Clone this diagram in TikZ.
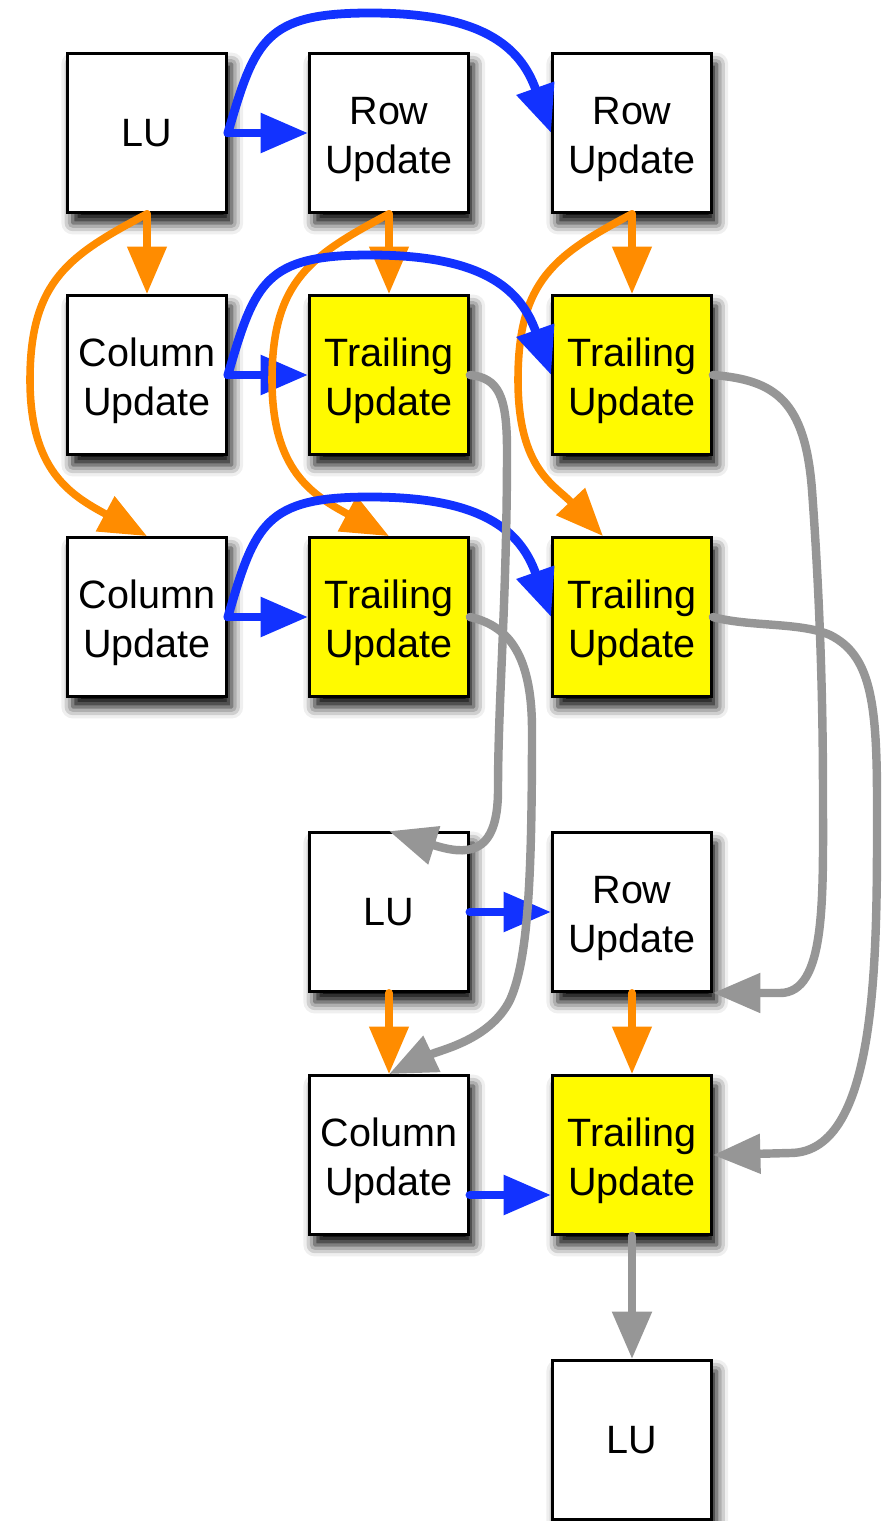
\documentclass[tikz,border=0pt]{standalone}
\usepackage{fontspec}
\setmainfont{Liberation Sans}
\usetikzlibrary{arrows.meta,shadows.blur}
\definecolor{luBlue}{RGB}{18,50,255}
\definecolor{luOrange}{RGB}{255,140,0}
\definecolor{luGray}{RGB}{150,150,150}
\definecolor{luYellow}{RGB}{255,250,0}

\begin{document}
\begin{tikzpicture}[x=0.02cm, y=-0.02cm,
        >={Triangle[length=0.95cm, width=0.76cm]},
        box/.style={rectangle, draw, line width=1.6pt, fill=white, minimum size=3.18cm, inner sep=0pt, align=center,
            font=\fontsize{22.5}{28}\selectfont,
            blur shadow={shadow xshift=3pt, shadow yshift=-6pt, shadow blur radius=6.5pt, shadow opacity=100}},
        twoline/.style={box, text height=1.8cm},
        trail/.style={twoline, fill=luYellow},
        blueline/.style={->, draw=luBlue, line width=5pt, line cap=round},
        orangeline/.style={->, draw=luOrange, line width=4.3pt, line cap=round},
        grayline/.style={->, draw=luGray, line width=4.8pt, line cap=round}
    ]
    \useasboundingbox (0,0) rectangle (892,1521);

    % Blocks
    \node[box] (lu1) at (147,133) {LU};
    \node[twoline] (row12) at (389,133) {Row\\Update};
    \node[twoline] (row13) at (632,133) {Row\\Update};
    \node[twoline] (col21) at (147,375) {Column\\Update};
    \node[trail] (trail22) at (389,375) {Trailing\\Update};
    \node[trail] (trail23) at (632,375) {Trailing\\Update};
    \node[twoline] (col31) at (147,617) {Column\\Update};
    \node[trail] (trail32) at (389,617) {Trailing\\Update};
    \node[trail] (trail33) at (632,617) {Trailing\\Update};
    \node[box] (lu4) at (389,912) {LU};
    \node[twoline] (row43) at (632,912) {Row\\Update};
    \node[twoline] (col52) at (389,1155) {Column\\Update};
    \node[trail] (trail53) at (632,1155) {Trailing\\Update};
    \node[box] (lu6) at (632,1440) {LU};

    % Row direction, neighbours
    \draw[blueline] (lu1.east) -- (row12.west);
    \draw[blueline] (col21.east) -- (trail22.west);
    \draw[blueline] (col31.east) -- (trail32.west);
    \draw[blueline] (lu4.east) -- (row43.west);
    \draw[blueline] ([yshift=-0.8cm]col52.east) -- ([yshift=-0.8cm]trail53.west);

    % Column direction
    \draw[orangeline] (lu1.south) -- (col21.north);
    \draw[orangeline] (row12.south) -- (trail22.north);
    \draw[orangeline] (row13.south) -- (trail23.north);
    \draw[orangeline] (lu4.south) -- (col52.north);
    \draw[orangeline] (row43.south) -- (trail53.north);
    \draw[orangeline] (lu1.south) .. controls (70,255) and (30,280) .. (30,380)
        .. controls (30,470) and (70,495) .. (col31.north);
    \draw[orangeline] (row12.south) .. controls (312,255) and (272,280) .. (272,380)
        .. controls (272,470) and (312,495) .. (trail32.north);
    \draw[orangeline] (row13.south) .. controls (555,255) and (518,280) .. (518,380)
        .. controls (518,470) and (555,485) .. ([xshift=-0.58cm]trail33.north);

    % Row direction, far blocks
    \draw[blueline] (lu1.east) .. controls (255,40) and (265,13) .. (370,13)
        .. controls (480,13) and (520,45) .. (row13.west);
    \draw[blueline] (col21.east) .. controls (255,282) and (265,255) .. (370,255)
        .. controls (480,255) and (520,287) .. (trail23.west);
    \draw[blueline] (col31.east) .. controls (255,524) and (265,497) .. (370,497)
        .. controls (480,497) and (520,529) .. (trail33.west);

    % Next step
    \draw[grayline] (trail22.east) .. controls (498,378) and (507,395) .. (507,450)
        .. controls (507,600) and (498,700) .. (498,790)
        .. controls (498,858) and (465,855) .. (lu4.north);
    \draw[grayline] (trail32.east) .. controls (505,625) and (532,650) .. (532,730)
        .. controls (532,880) and (528,960) .. (510,1000)
        .. controls (490,1040) and (440,1050) .. (col52.north);
    \draw[grayline] (trail23.east) .. controls (775,380) and (805,400) .. (812,490)
        .. controls (820,600) and (823,700) .. (823,800)
        .. controls (823,900) and (826,993) .. (780,993) -- (row43.south east);
    \draw[grayline] (trail33.east) .. controls (750,627) and (800,622) .. (830,635)
        .. controls (870,655) and (877,700) .. (877,800)
        .. controls (877,950) and (880,1153) .. (790,1153) -- (trail53.east);
    \draw[grayline] (trail53.south) -- (lu6.north);
\end{tikzpicture}
\end{document}
